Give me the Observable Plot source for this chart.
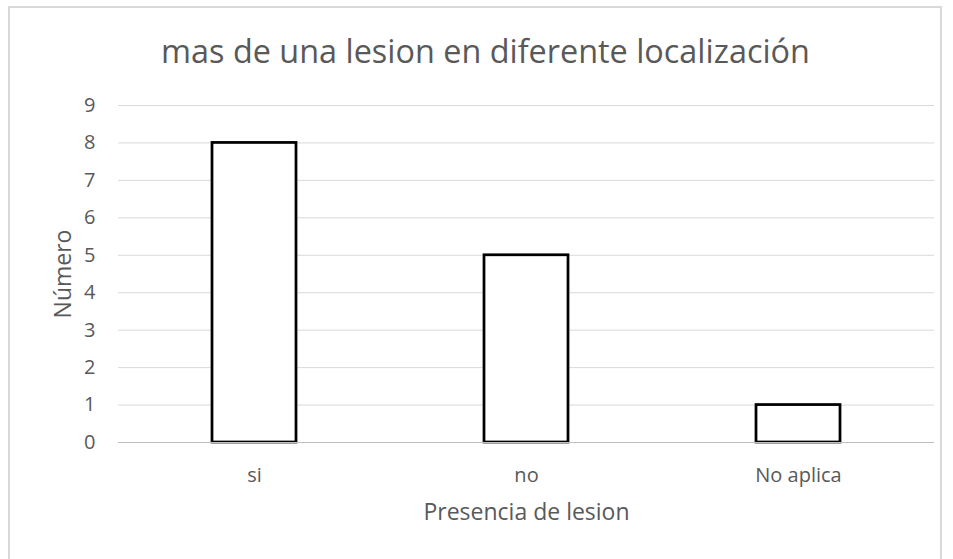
<!DOCTYPE html>
<html>
<head>
<meta charset="utf-8">
<script src="https://cdn.jsdelivr.net/npm/d3@7"></script>
<script src="https://cdn.jsdelivr.net/npm/@observablehq/plot@0.6"></script>
<style>
  html, body { margin: 0; padding: 0; background: #fff; }
  #wrap { position: relative; width: 953px; height: 559px; overflow: hidden; }
  #frame {
    position: absolute; left: 8px; top: 6px; width: 934px; height: 600px;
    border: 2px solid #d9d9d9; box-sizing: border-box;
  }
  #chart { position: absolute; left: 0; top: 0; }
</style>
</head>
<body>
<div id="wrap">
  <div id="frame"></div>
  <div id="chart"></div>
</div>
<script>
// Categories and counts
const categories = ["si", "no", "No aplica"];
const counts = [8, 5, 1];
const yTicks = [0, 1, 2, 3, 4, 5, 6, 7, 8, 9];

const titleText = "mas de una lesion en diferente localización";
const xTitle = "Presencia de lesion";
const yTitle = "Número";

const rows = categories.map((c, i) => ({category: c, count: counts[i]}));

const textColor = "#595959";
const font = "'Open Sans', sans-serif";

const chart = Plot.plot({
  width: 953,
  height: 559,
  marginLeft: 118,
  marginRight: 19,
  marginTop: 105,
  marginBottom: 117,
  style: {fontFamily: font, background: "transparent", overflow: "visible"},
  x: {
    domain: categories,
    paddingInner: 0.69,
    paddingOuter: 0.345,
    label: null,
    tickSize: 0,
    tickPadding: 25
  },
  y: {
    domain: [0, 9],
    ticks: yTicks,
    label: null,
    tickSize: 0,
    tickPadding: 23
  },
  marks: [
    Plot.gridY(yTicks, {stroke: "#d9d9d9", strokeOpacity: 1, strokeWidth: 1}),
    Plot.barY(rows, {
      x: "category", y: "count",
      fill: "white", stroke: "black", strokeWidth: 2.75
    }),
    Plot.ruleY([0], {stroke: "#bfbfbf", strokeWidth: 1}),
    Plot.axisX({tickSize: 0, tickPadding: 25, fontSize: 20, fill: textColor, label: null}),
    Plot.axisY({ticks: yTicks, tickSize: 0, tickPadding: 23, fontSize: 20, fill: textColor, label: null}),
    Plot.text([titleText], {
      frameAnchor: "top", dx: -41, dy: -43, lineAnchor: "bottom",
      fontSize: 32.4, fill: textColor
    }),
    Plot.text([xTitle], {
      frameAnchor: "bottom", dy: 77, lineAnchor: "bottom",
      fontSize: 23, fill: textColor
    }),
    Plot.text([yTitle], {
      frameAnchor: "left", dx: -48, rotate: -90, lineAnchor: "bottom",
      textAnchor: "middle", fontSize: 23, fill: textColor
    })
  ]
});

document.getElementById("chart").appendChild(chart);
</script>
</body>
</html>
